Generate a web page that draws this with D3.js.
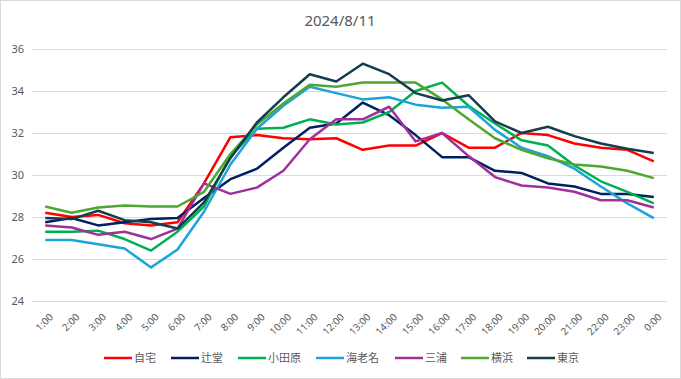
<!DOCTYPE html>
<html><head><meta charset="utf-8">
<script src="https://cdn.jsdelivr.net/npm/d3@7"></script>
<style>body{margin:0;background:#fff;font-family:"Noto Sans CJK JP","Noto Sans",sans-serif;}</style>
</head><body><svg id="c" width="681" height="379"></svg>
<script>
const categories = ["1:00","2:00","3:00","4:00","5:00","6:00","7:00","8:00","9:00","10:00","11:00","12:00","13:00","14:00","15:00","16:00","17:00","18:00","19:00","20:00","21:00","22:00","23:00","0:00"];
const seriesNames = ["自宅","辻堂","小田原","海老名","三浦","横浜","東京"];
const jitaku   = [28.2,28.0,28.1,27.7,27.6,27.75,29.6,31.8,31.9,31.75,31.7,31.75,31.2,31.4,31.4,32.0,31.3,31.3,32.0,31.9,31.5,31.3,31.2,30.65];
const tsujido  = [27.75,27.95,27.6,27.75,27.9,27.95,28.9,29.8,30.3,31.3,32.25,32.45,33.45,32.85,31.9,30.85,30.85,30.2,30.1,29.6,29.45,29.1,29.1,28.95];
const odawara  = [27.3,27.3,27.35,26.95,26.4,27.3,28.5,30.9,32.2,32.25,32.65,32.4,32.5,33.0,34.0,34.4,33.3,32.45,31.65,31.4,30.45,29.7,29.2,28.65];
const ebina    = [26.9,26.9,26.7,26.5,25.6,26.45,28.25,30.5,32.2,33.3,34.2,33.9,33.6,33.7,33.35,33.2,33.25,32.15,31.3,30.9,30.3,29.45,28.65,27.95];
const miura    = [27.6,27.5,27.15,27.3,26.95,27.45,29.6,29.1,29.4,30.2,31.7,32.65,32.65,33.25,31.6,32.0,30.9,29.9,29.5,29.4,29.2,28.8,28.8,28.45];
const yokohama = [28.5,28.2,28.45,28.55,28.5,28.5,29.2,31.0,32.4,33.4,34.3,34.2,34.4,34.4,34.4,33.6,32.65,31.75,31.2,30.8,30.5,30.4,30.2,29.85];
const tokyo    = [27.95,27.9,28.3,27.85,27.75,27.45,28.7,30.8,32.5,33.7,34.8,34.45,35.3,34.8,33.9,33.55,33.8,32.55,32.0,32.3,31.85,31.5,31.25,31.05];
const yTicks = [24,26,28,30,32,34,36];
const colors = ["#FF0000","#002060","#00B050","#1CA3DC","#A0309A","#4EA72E","#153D4E"];
const allSeries = [jitaku,tsujido,odawara,ebina,miura,yokohama,tokyo];

const svg = d3.select("#c");
svg.append("rect").attr("x",0.5).attr("y",0.5).attr("width",680).attr("height",378)
  .attr("fill","#fff").attr("stroke","#D9D9D9");

const L = 32, R = 667, T = 49, B = 301;
const x = d3.scaleBand().domain(categories).range([L,R]);
const y = d3.scaleLinear().domain([24,36]).range([B,T]);

svg.append("text").attr("x",340).attr("y",26).attr("text-anchor","middle")
  .attr("font-size",15).attr("fill","#595959").attr("font-family","Noto Sans, sans-serif").text("2024/8/11");

const gy = svg.append("g").attr("transform",`translate(${L},0)`)
  .call(d3.axisLeft(y).tickValues(yTicks).tickSize(-(R-L)).tickFormat(d3.format("d")));
gy.select(".domain").remove();
gy.selectAll(".tick line").attr("stroke","#D9D9D9").attr("stroke-width",1);
gy.selectAll(".tick text").attr("x",-8).attr("fill","#595959").attr("font-size",11)
  .attr("font-family","Noto Sans, sans-serif");

const gx = svg.append("g").attr("transform",`translate(0,${B})`)
  .call(d3.axisBottom(x).tickSize(0));
gx.select(".domain").remove();
gx.selectAll(".tick text").attr("fill","#595959").attr("font-size",10)
  .attr("font-family","Noto Sans, sans-serif")
  .attr("text-anchor","end").attr("dy","0.35em")
  .attr("transform","translate(4,12) rotate(-45)");

const line = d3.line().x((d,i)=>x(categories[i])+x.bandwidth()/2).y(d=>y(d));
allSeries.forEach((s,k)=>{
  svg.append("path").datum(s).attr("d",line).attr("fill","none")
    .attr("stroke",colors[k]).attr("stroke-width",2.5).attr("stroke-linejoin","round");
});

const legX = [104,171,238,316,395,461,527];
const lg = svg.append("g");
seriesNames.forEach((n,k)=>{
  const g = lg.append("g").attr("transform",`translate(${legX[k]},358)`);
  g.append("line").attr("x1",0).attr("x2",28).attr("stroke",colors[k]).attr("stroke-width",2.5);
  g.append("text").attr("x",30).attr("y",0).attr("dy","0.35em").attr("font-size",11)
    .attr("fill","#595959").text(n);
});
</script></body></html>
